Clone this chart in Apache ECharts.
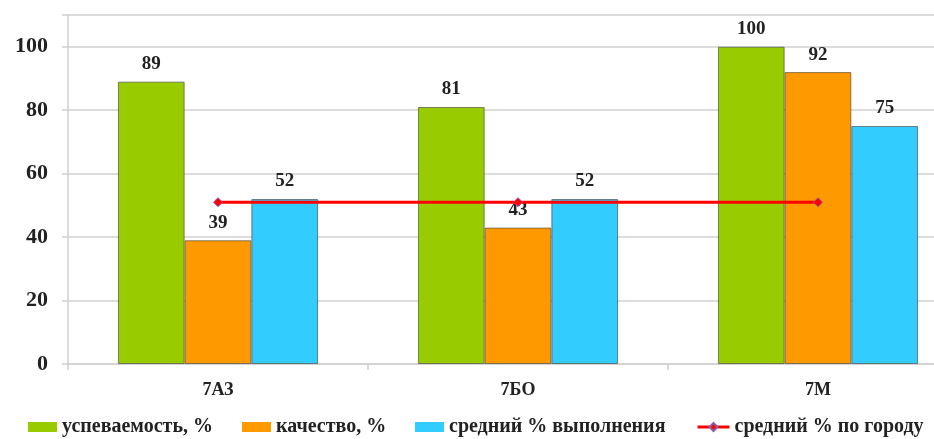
<!DOCTYPE html>
<html>
<head>
<meta charset="utf-8">
<script src="https://cdn.jsdelivr.net/npm/echarts@6/dist/echarts.min.js"></script>
<style>html,body{margin:0;padding:0;background:#fff;overflow:hidden;width:934px;height:439px}#c{width:968px;height:439px}</style>
</head>
<body>
<div id="c"></div>
<script>
var categories = ['7АЗ', '7БО', '7М'];
var seriesNames = ['успеваемость, %', 'качество, %', 'средний % выполнения', 'средний % по городу'];
var uspevaemost = [89, 81, 100];
var kachestvo = [39, 43, 92];
var sredniyVypolneniya = [52, 52, 75];
var sredniyGorod = [51, 51, 51];
var yTicks = [0, 20, 40, 60, 80, 100];

var font = 'Liberation Serif';
var chart = echarts.init(document.getElementById('c'));
var labelCfg = {show: true, position: 'top', distance: 8, fontFamily: font, fontWeight: 'bold', fontSize: 19, color: '#222'};
function bar(name, data, color) {
  return {
    name: name, type: 'bar', data: data, barGap: '0%', barCategoryGap: '33.3%',
    itemStyle: {color: color, borderColor: 'rgba(60,60,60,0.6)', borderWidth: 1},
    label: labelCfg
  };
}
var legendLefts = [28, 242, 415, 696];
var legends = seriesNames.map(function (n, i) {
  return {
    left: legendLefts[i], top: 417, padding: 0, itemWidth: i === 3 ? 32 : 29, itemHeight: 10, itemGap: 0,
    textStyle: {fontFamily: font, fontWeight: 'bold', fontSize: 20, color: '#222', padding: [0, 0, 0, 0]},
    data: [i === 3 ? {name: n, lineStyle: {width: 3, color: '#ff0000'}} : {name: n, icon: 'rect', itemStyle: {borderWidth: 0}}]
  };
});
chart.setOption({
  animation: false,
  grid: {left: 68, right: 0, top: 15, bottom: 75, containLabel: false},
  legend: legends,
  xAxis: {
    type: 'category', data: categories,
    axisLine: {lineStyle: {color: '#d0d0d0', width: 1.5}},
    axisTick: {show: true, length: 6, lineStyle: {color: '#d0d0d0', width: 1.5}},
    axisLabel: {fontFamily: font, fontWeight: 'bold', fontSize: 18, color: '#222', margin: 17}
  },
  yAxis: {
    type: 'value', min: 0, max: 110, interval: 20,
    axisLine: {show: true, lineStyle: {color: '#d0d0d0', width: 1.5}},
    axisTick: {show: true, length: 6, lineStyle: {color: '#d0d0d0', width: 1.5}},
    splitLine: {lineStyle: {color: '#d0d0d0', width: 1.5}},
    axisLabel: {
      fontFamily: font, fontWeight: 'bold', fontSize: 22, color: '#222', margin: 20,
      formatter: function (v) { return yTicks.indexOf(v) >= 0 ? String(v) : ''; }
    }
  },
  series: [
    bar(seriesNames[0], uspevaemost, '#99cc00'),
    bar(seriesNames[1], kachestvo, '#ff9900'),
    bar(seriesNames[2], sredniyVypolneniya, '#33ccff'),
    {
      name: seriesNames[3], type: 'line', data: sredniyGorod, z: 5,
      lineStyle: {color: '#ff0000', width: 3},
      itemStyle: {color: '#ff0000', borderColor: '#8a5fa8', borderWidth: 1},
      symbol: 'diamond', symbolSize: 9, showSymbol: true
    }
  ]
});
</script>
</body>
</html>
